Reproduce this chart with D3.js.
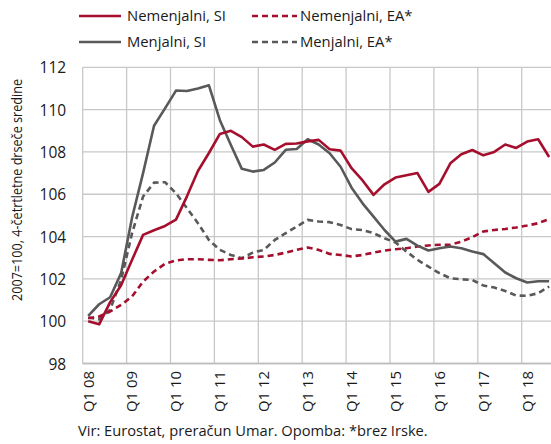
<!DOCTYPE html>
<html><head><meta charset="utf-8">
<script src="https://cdn.jsdelivr.net/npm/d3@7"></script>
<style>body{margin:0;background:#fff}svg{display:block}text{font-family:"Open Sans",sans-serif;fill:#1a1a1a}</style>
</head><body><svg id="c" width="551" height="444"></svg>
<script>
const quarters = [];
for (let y = 8; y <= 18; y++) for (let q = 1; q <= 4; q++) { if (y === 18 && q > 3) break; quarters.push("Q" + q + " " + String(y).padStart(2, "0")); }
const nemenjalniSI = [100.0,99.85,100.9,101.7,102.9,104.08,104.3,104.5,104.8,105.9,107.1,107.95,108.85,109.0,108.7,108.25,108.35,108.1,108.38,108.4,108.5,108.57,108.13,108.06,107.23,106.65,105.97,106.47,106.79,106.9,107.0,106.11,106.49,107.46,107.89,108.09,107.84,108.0,108.35,108.19,108.49,108.6,107.76];
const menjalniSI = [100.25,100.8,101.13,102.27,104.9,107.0,109.24,110.06,110.9,110.88,111.0,111.15,109.5,108.33,107.2,107.07,107.15,107.5,108.1,108.14,108.6,108.35,107.94,107.3,106.31,105.57,104.94,104.31,103.76,103.89,103.57,103.34,103.45,103.53,103.45,103.29,103.17,102.74,102.3,102.03,101.83,101.89,101.89];
const nemenjalniEA = [100.14,100.22,100.46,100.77,101.17,101.87,102.35,102.71,102.87,102.93,102.93,102.9,102.88,102.93,102.96,103.02,103.06,103.13,103.24,103.37,103.48,103.37,103.18,103.13,103.06,103.13,103.24,103.34,103.4,103.45,103.53,103.58,103.61,103.61,103.76,103.97,104.24,104.31,104.36,104.43,104.52,104.63,104.83];
const menjalniEA = [100.17,100.09,100.54,101.95,104.16,105.89,106.55,106.57,106.05,105.34,104.63,103.84,103.37,103.13,102.98,103.24,103.37,103.84,104.16,104.47,104.79,104.71,104.68,104.55,104.35,104.31,104.16,103.92,103.72,103.29,102.9,102.58,102.27,102.03,101.98,101.95,101.69,101.59,101.43,101.21,101.2,101.32,101.64];
const yTicks = [98,100,102,104,106,108,110,112];
const seriesNames = ["Nemenjalni, SI","Nemenjalni, EA*","Menjalni, SI","Menjalni, EA*"];
const source = "Vir: Eurostat, preračun Umar. Opomba: *brez Irske.";
const yTitle = "2007=100, 4-četrtletne drseče sredine";

const RED = "#A50F2D", GRAY = "#595959";
const series = [
  {name: seriesNames[0], values: nemenjalniSI, color: RED, dash: null},
  {name: seriesNames[1], values: nemenjalniEA, color: RED, dash: "6,4"},
  {name: seriesNames[2], values: menjalniSI, color: GRAY, dash: null},
  {name: seriesNames[3], values: menjalniEA, color: GRAY, dash: "6,4"}
];

function fit(sel, base, target) {
  sel.each(function() {
    const t = d3.select(this).attr("font-size", base);
    const w = this.getComputedTextLength();
    if (w > 0) t.attr("font-size", (base * target / w).toFixed(2));
  });
}

const svg = d3.select("#c");
const L = 82.7, T = 67.3, B = 363.5;
const x = d3.scaleBand().domain(quarters).range([L, L + 43 * 10.975]).padding(0);
const y = d3.scaleLinear().domain([98, 112]).range([B, T]);
const R = L + 43 * 10.975;

const g = svg.append("g");
g.selectAll(".hg").data(yTicks).join("line")
  .attr("x1", L).attr("x2", R).attr("y1", d => y(d)).attr("y2", d => y(d))
  .attr("stroke", "#c8c8c8").attr("stroke-width", 1.3);
const yearStarts = quarters.filter(q => q.startsWith("Q1"));
g.selectAll(".vg").data(yearStarts).join("line")
  .attr("x1", d => x(d)).attr("x2", d => x(d)).attr("y1", T).attr("y2", B)
  .attr("stroke", "#c8c8c8").attr("stroke-width", 1.3);
g.append("line").attr("x1", L).attr("x2", R).attr("y1", B).attr("y2", B).attr("stroke", "#bdbdbd").attr("stroke-width", 1.5);

// y axis
const yAxis = d3.axisLeft(y).tickValues(yTicks).tickSize(0).tickPadding(0).tickFormat(d3.format("d"));
const ya = svg.append("g").attr("transform", `translate(${L - 16.5},0)`).call(yAxis);
ya.select(".domain").remove();
ya.selectAll("text").attr("font-family", "Open Sans").attr("fill", "#1a1a1a").attr("dy", "0.36em").attr("font-size", 15.5);

// x axis
const xAxis = d3.axisBottom(x).tickValues(yearStarts).tickSize(0).tickPadding(0);
const xa = svg.append("g").attr("transform", `translate(0,${B})`).call(xAxis);
xa.select(".domain").remove();
xa.selectAll("text").attr("font-family", "Open Sans").attr("fill", "#1a1a1a")
  .attr("transform", "rotate(-90)").attr("text-anchor", "end").attr("x", -7.5).attr("y", 0).attr("dy", "0.36em");
fit(xa.selectAll("text").filter((d, i) => i === 0), 14, 41);
xa.selectAll("text").attr("font-size", xa.select("text").attr("font-size"));

// lines
const line = d3.line().x((d, i) => x(quarters[i]) + x.bandwidth() / 2).y(d => y(d));
svg.append("g").selectAll("path").data([series[3], series[1], series[2], series[0]]).join("path")
  .attr("d", d => line(d.values)).attr("fill", "none").attr("stroke", d => d.color)
  .attr("stroke-width", 2.6).attr("stroke-dasharray", d => d.dash).attr("stroke-linejoin", "round");

// legend
const leg = svg.append("g");
const legPos = [[79, 16], [252, 16], [79, 42], [252, 42]];
let legSize = 15;
series.forEach((s, i) => {
  const [lx, ly] = legPos[i];
  leg.append("line").attr("x1", lx).attr("x2", lx + (s.dash ? 45 : 42)).attr("y1", ly).attr("y2", ly)
    .attr("stroke", s.color).attr("stroke-width", 2.6).attr("stroke-dasharray", s.dash);
  const t = leg.append("text").attr("x", lx + 48).attr("y", ly).attr("dy", "0.36em").text(s.name);
  if (i === 0) { fit(t, 15, 99); legSize = t.attr("font-size"); }
  t.attr("font-size", legSize);
});

// y title
svg.append("text").attr("transform", "translate(22,190) rotate(-90)").attr("text-anchor", "middle")
  .attr("font-size", 14).attr("textLength", 222).attr("lengthAdjust", "spacingAndGlyphs").text(yTitle);
// source
const st = svg.append("text").attr("x", 78).attr("y", 436).text(source);
fit(st, 15, 350);
</script></body></html>
